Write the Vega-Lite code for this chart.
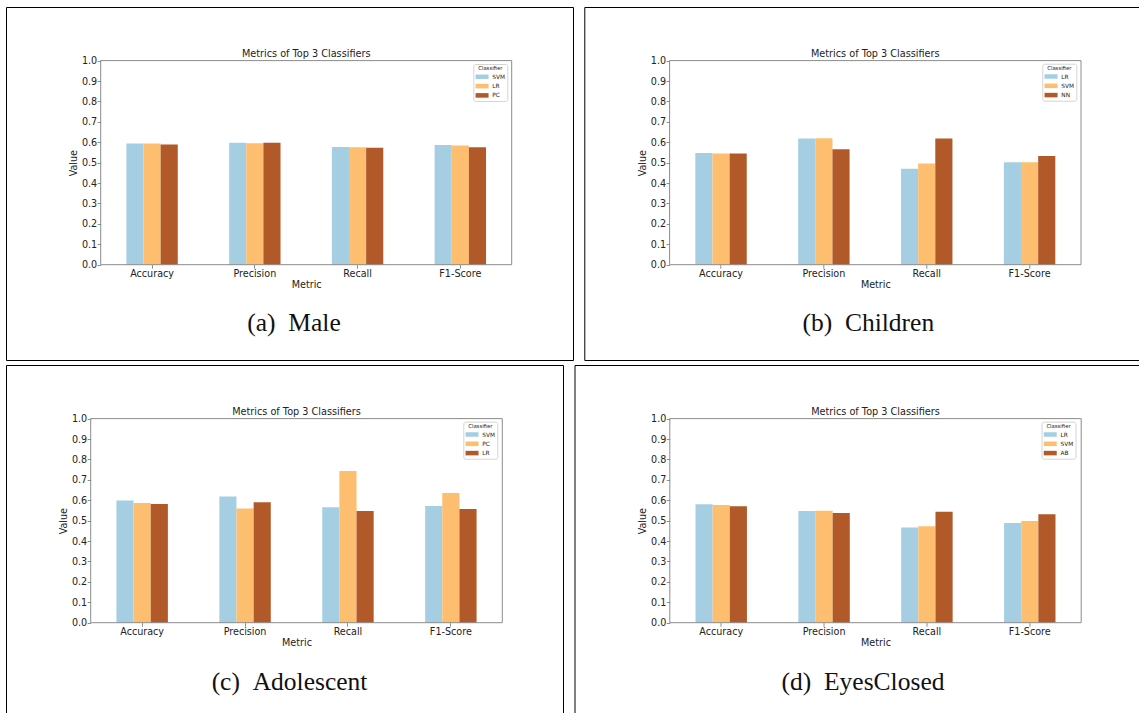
{
  "$schema": "https://vega.github.io/schema/vega-lite/v6.json",
  "background": "white",
  "padding": {"left": 5, "top": 6, "right": 0, "bottom": 0},
  "spacing": 3,
  "config": {
    "font": "DejaVu Sans",
    "view": {"stroke": "#000000", "strokeWidth": 1},
    "axis": {
      "grid": false,
      "domain": false,
      "tickColor": "#8c8c8c",
      "tickSize": 3.5,
      "labelFont": "DejaVu Sans",
      "labelFontSize": 9.6,
      "labelColor": "#222222",
      "titleFont": "DejaVu Sans",
      "titleFontSize": 9.6,
      "titleFontWeight": "normal",
      "titleColor": "#222222"
    },
    "legend": {
      "titleFont": "DejaVu Sans",
      "labelFont": "DejaVu Sans",
      "titleFontWeight": "normal",
      "labelColor": "#222222",
      "titleColor": "#222222"
    },
    "title": {"font": "Liberation Serif", "fontWeight": "normal", "color": "#111111"}
  },
  "resolve": {"scale": {"color": "independent", "xOffset": "independent"}, "legend": {"color": "independent"}},
  "vconcat": [
    {
      "spacing": 9.3,
      "resolve": {"scale": {"color": "independent", "xOffset": "independent"}, "legend": {"color": "independent"}},
      "hconcat": [
        {
          "width": 567,
          "height": 353,
          "data": {"values": [
            {"Metric": "Accuracy", "Classifier": "SVM", "Value": 0.594},
            {"Metric": "Accuracy", "Classifier": "LR", "Value": 0.594},
            {"Metric": "Accuracy", "Classifier": "PC", "Value": 0.589},
            {"Metric": "Precision", "Classifier": "SVM", "Value": 0.597},
            {"Metric": "Precision", "Classifier": "LR", "Value": 0.595},
            {"Metric": "Precision", "Classifier": "PC", "Value": 0.597},
            {"Metric": "Recall", "Classifier": "SVM", "Value": 0.577},
            {"Metric": "Recall", "Classifier": "LR", "Value": 0.575},
            {"Metric": "Recall", "Classifier": "PC", "Value": 0.573},
            {"Metric": "F1-Score", "Classifier": "SVM", "Value": 0.586},
            {"Metric": "F1-Score", "Classifier": "LR", "Value": 0.584},
            {"Metric": "F1-Score", "Classifier": "PC", "Value": 0.576}
          ]},
          "title": {"text": "(a)\u2002Male", "orient": "bottom", "anchor": "middle", "frame": "group", "offset": -29, "baseline": "alphabetic", "fontSize": 25.5, "dx": 4.5},
          "layer": [
            {
              "mark": {"type": "bar"},
              "encoding": {
                "x": {"field": "Metric", "type": "nominal",
                  "scale": {"domain": ["Accuracy", "Precision", "Recall", "F1-Score"], "range": [94.7, 505.7], "paddingInner": 0.5, "paddingOuter": 0.25},
                  "axis": {"orient": "bottom", "offset": -95.3, "title": "Metric", "labelAngle": 0, "labelPadding": 0.5, "titlePadding": 1}},
                "xOffset": {"field": "Classifier", "type": "nominal", "scale": {"domain": ["SVM", "LR", "PC"], "paddingInner": 0, "paddingOuter": 0}},
                "y": {"field": "Value", "type": "quantitative",
                  "scale": {"domain": [0, 1], "range": [257.7, 53.6], "nice": false, "zero": true},
                  "axis": {"orient": "left", "offset": -94.7, "title": "Value", "values": [0, 0.1, 0.2, 0.3, 0.4, 0.5, 0.6, 0.7, 0.8, 0.9, 1], "format": ".1f", "labelPadding": 0.5, "titlePadding": 3, "labelFlush": false, "labelOverlap": false}},
                "color": {"field": "Classifier", "type": "nominal",
                  "scale": {"domain": ["SVM", "LR", "PC"], "range": ["#a6cee3", "#fdbf6f", "#b15928"]},
                  "legend": {"title": "Classifier", "orient": "none", "legendX": 467.3, "legendY": 57, "fillColor": "#ffffff", "strokeColor": "#d4d4d4", "cornerRadius": 2, "padding": 2, "titleFontSize": 5.3, "titleAnchor": "middle", "titlePadding": 2, "labelFontSize": 5.8, "labelOffset": 10, "symbolType": "M-1,-0.7H3V0.7H-1Z", "symbolSize": 42.25, "symbolStrokeWidth": 0, "rowPadding": 2.3}}
              }
            },
            {
              "data": {"values": [{}]},
              "mark": {"type": "rect", "fill": null, "filled": false, "stroke": "#8c8c8c", "strokeWidth": 1},
              "encoding": {
                "x": {"datum": "Accuracy", "type": "nominal", "bandPosition": -0.5, "axis": null},
                "x2": {"datum": "F1-Score", "bandPosition": 1.5},
                "y": {"datum": 0, "type": "quantitative", "axis": null},
                "y2": {"datum": 1}
              }
            },
            {
              "data": {"values": [{}]},
              "mark": {"type": "text", "text": "Metrics of Top 3 Classifiers", "font": "DejaVu Sans", "fontSize": 9.7, "color": "#222222", "align": "center", "baseline": "alphabetic", "dy": -3.4},
              "encoding": {
                "x": {"datum": "Precision", "type": "nominal", "bandPosition": 1.5, "axis": null},
                "y": {"datum": 1, "type": "quantitative", "axis": null}
              }
            }
          ],
          "resolve": {"axis": {"x": "independent", "y": "independent"}}
        },
        {
          "width": 567,
          "height": 353,
          "data": {"values": [
            {"Metric": "Accuracy", "Classifier": "LR", "Value": 0.547},
            {"Metric": "Accuracy", "Classifier": "SVM", "Value": 0.545},
            {"Metric": "Accuracy", "Classifier": "NN", "Value": 0.545},
            {"Metric": "Precision", "Classifier": "LR", "Value": 0.618},
            {"Metric": "Precision", "Classifier": "SVM", "Value": 0.620},
            {"Metric": "Precision", "Classifier": "NN", "Value": 0.566},
            {"Metric": "Recall", "Classifier": "LR", "Value": 0.470},
            {"Metric": "Recall", "Classifier": "SVM", "Value": 0.496},
            {"Metric": "Recall", "Classifier": "NN", "Value": 0.618},
            {"Metric": "F1-Score", "Classifier": "LR", "Value": 0.502},
            {"Metric": "F1-Score", "Classifier": "SVM", "Value": 0.502},
            {"Metric": "F1-Score", "Classifier": "NN", "Value": 0.532}
          ]},
          "title": {"text": "(b)\u2002Children", "orient": "bottom", "anchor": "middle", "frame": "group", "offset": -29, "baseline": "alphabetic", "fontSize": 25.5, "dx": 0.5},
          "layer": [
            {
              "mark": {"type": "bar"},
              "encoding": {
                "x": {"field": "Metric", "type": "nominal",
                  "scale": {"domain": ["Accuracy", "Precision", "Recall", "F1-Score"], "range": [85.3, 496.7], "paddingInner": 0.5, "paddingOuter": 0.25},
                  "axis": {"orient": "bottom", "offset": -95.3, "title": "Metric", "labelAngle": 0, "labelPadding": 0.5, "titlePadding": 1}},
                "xOffset": {"field": "Classifier", "type": "nominal", "scale": {"domain": ["LR", "SVM", "NN"], "paddingInner": 0, "paddingOuter": 0}},
                "y": {"field": "Value", "type": "quantitative",
                  "scale": {"domain": [0, 1], "range": [257.7, 53.6], "nice": false, "zero": true},
                  "axis": {"orient": "left", "offset": -85.3, "title": "Value", "values": [0, 0.1, 0.2, 0.3, 0.4, 0.5, 0.6, 0.7, 0.8, 0.9, 1], "format": ".1f", "labelPadding": 0.5, "titlePadding": 3, "labelFlush": false, "labelOverlap": false}},
                "color": {"field": "Classifier", "type": "nominal",
                  "scale": {"domain": ["LR", "SVM", "NN"], "range": ["#a6cee3", "#fdbf6f", "#b15928"]},
                  "legend": {"title": "Classifier", "orient": "none", "legendX": 458, "legendY": 56.7, "fillColor": "#ffffff", "strokeColor": "#d4d4d4", "cornerRadius": 2, "padding": 2, "titleFontSize": 5.3, "titleAnchor": "middle", "titlePadding": 2, "labelFontSize": 5.8, "labelOffset": 10, "symbolType": "M-1,-0.7H3V0.7H-1Z", "symbolSize": 42.25, "symbolStrokeWidth": 0, "rowPadding": 2.3}}
              }
            },
            {
              "data": {"values": [{}]},
              "mark": {"type": "rect", "fill": null, "filled": false, "stroke": "#8c8c8c", "strokeWidth": 1},
              "encoding": {
                "x": {"datum": "Accuracy", "type": "nominal", "bandPosition": -0.5, "axis": null},
                "x2": {"datum": "F1-Score", "bandPosition": 1.5},
                "y": {"datum": 0, "type": "quantitative", "axis": null},
                "y2": {"datum": 1}
              }
            },
            {
              "data": {"values": [{}]},
              "mark": {"type": "text", "text": "Metrics of Top 3 Classifiers", "font": "DejaVu Sans", "fontSize": 9.7, "color": "#222222", "align": "center", "baseline": "alphabetic", "dy": -3.4},
              "encoding": {
                "x": {"datum": "Precision", "type": "nominal", "bandPosition": 1.5, "axis": null},
                "y": {"datum": 1, "type": "quantitative", "axis": null}
              }
            }
          ],
          "resolve": {"axis": {"x": "independent", "y": "independent"}}
        }
      ]
    },
    {
      "spacing": 9.5,
      "resolve": {"scale": {"color": "independent", "xOffset": "independent"}, "legend": {"color": "independent"}},
      "hconcat": [
        {
          "width": 557,
          "height": 353,
          "data": {"values": [
            {"Metric": "Accuracy", "Classifier": "SVM", "Value": 0.599},
            {"Metric": "Accuracy", "Classifier": "PC", "Value": 0.586},
            {"Metric": "Accuracy", "Classifier": "LR", "Value": 0.582},
            {"Metric": "Precision", "Classifier": "SVM", "Value": 0.618},
            {"Metric": "Precision", "Classifier": "PC", "Value": 0.560},
            {"Metric": "Precision", "Classifier": "LR", "Value": 0.590},
            {"Metric": "Recall", "Classifier": "SVM", "Value": 0.566},
            {"Metric": "Recall", "Classifier": "PC", "Value": 0.743},
            {"Metric": "Recall", "Classifier": "LR", "Value": 0.547},
            {"Metric": "F1-Score", "Classifier": "SVM", "Value": 0.572},
            {"Metric": "F1-Score", "Classifier": "PC", "Value": 0.636},
            {"Metric": "F1-Score", "Classifier": "LR", "Value": 0.557}
          ]},
          "title": {"text": "(c)\u2002Adolescent", "orient": "bottom", "anchor": "middle", "frame": "group", "offset": -28, "baseline": "alphabetic", "fontSize": 25.5, "dx": 5},
          "layer": [
            {
              "mark": {"type": "bar"},
              "encoding": {
                "x": {"field": "Metric", "type": "nominal",
                  "scale": {"domain": ["Accuracy", "Precision", "Recall", "F1-Score"], "range": [84.7, 496.3], "paddingInner": 0.5, "paddingOuter": 0.25},
                  "axis": {"orient": "bottom", "offset": -95.3, "title": "Metric", "labelAngle": 0, "labelPadding": 0.5, "titlePadding": 1}},
                "xOffset": {"field": "Classifier", "type": "nominal", "scale": {"domain": ["SVM", "PC", "LR"], "paddingInner": 0, "paddingOuter": 0}},
                "y": {"field": "Value", "type": "quantitative",
                  "scale": {"domain": [0, 1], "range": [257.7, 53.6], "nice": false, "zero": true},
                  "axis": {"orient": "left", "offset": -84.7, "title": "Value", "values": [0, 0.1, 0.2, 0.3, 0.4, 0.5, 0.6, 0.7, 0.8, 0.9, 1], "format": ".1f", "labelPadding": 0.5, "titlePadding": 3, "labelFlush": false, "labelOverlap": false}},
                "color": {"field": "Classifier", "type": "nominal",
                  "scale": {"domain": ["SVM", "PC", "LR"], "range": ["#a6cee3", "#fdbf6f", "#b15928"]},
                  "legend": {"title": "Classifier", "orient": "none", "legendX": 457.3, "legendY": 56.7, "fillColor": "#ffffff", "strokeColor": "#d4d4d4", "cornerRadius": 2, "padding": 2, "titleFontSize": 5.3, "titleAnchor": "middle", "titlePadding": 2, "labelFontSize": 5.8, "labelOffset": 10, "symbolType": "M-1,-0.7H3V0.7H-1Z", "symbolSize": 42.25, "symbolStrokeWidth": 0, "rowPadding": 2.3}}
              }
            },
            {
              "data": {"values": [{}]},
              "mark": {"type": "rect", "fill": null, "filled": false, "stroke": "#8c8c8c", "strokeWidth": 1},
              "encoding": {
                "x": {"datum": "Accuracy", "type": "nominal", "bandPosition": -0.5, "axis": null},
                "x2": {"datum": "F1-Score", "bandPosition": 1.5},
                "y": {"datum": 0, "type": "quantitative", "axis": null},
                "y2": {"datum": 1}
              }
            },
            {
              "data": {"values": [{}]},
              "mark": {"type": "text", "text": "Metrics of Top 3 Classifiers", "font": "DejaVu Sans", "fontSize": 9.7, "color": "#222222", "align": "center", "baseline": "alphabetic", "dy": -3.4},
              "encoding": {
                "x": {"datum": "Precision", "type": "nominal", "bandPosition": 1.5, "axis": null},
                "y": {"datum": 1, "type": "quantitative", "axis": null}
              }
            }
          ],
          "resolve": {"axis": {"x": "independent", "y": "independent"}}
        },
        {
          "width": 567,
          "height": 353,
          "data": {"values": [
            {"Metric": "Accuracy", "Classifier": "LR", "Value": 0.580},
            {"Metric": "Accuracy", "Classifier": "SVM", "Value": 0.577},
            {"Metric": "Accuracy", "Classifier": "AB", "Value": 0.570},
            {"Metric": "Precision", "Classifier": "LR", "Value": 0.547},
            {"Metric": "Precision", "Classifier": "SVM", "Value": 0.549},
            {"Metric": "Precision", "Classifier": "AB", "Value": 0.538},
            {"Metric": "Recall", "Classifier": "LR", "Value": 0.467},
            {"Metric": "Recall", "Classifier": "SVM", "Value": 0.473},
            {"Metric": "Recall", "Classifier": "AB", "Value": 0.543},
            {"Metric": "F1-Score", "Classifier": "LR", "Value": 0.489},
            {"Metric": "F1-Score", "Classifier": "SVM", "Value": 0.498},
            {"Metric": "F1-Score", "Classifier": "AB", "Value": 0.531}
          ]},
          "title": {"text": "(d)\u2002EyesClosed", "orient": "bottom", "anchor": "middle", "frame": "group", "offset": -28, "baseline": "alphabetic", "fontSize": 25.5, "dx": 5},
          "layer": [
            {
              "mark": {"type": "bar"},
              "encoding": {
                "x": {"field": "Metric", "type": "nominal",
                  "scale": {"domain": ["Accuracy", "Precision", "Recall", "F1-Score"], "range": [95.3, 506.7], "paddingInner": 0.5, "paddingOuter": 0.25},
                  "axis": {"orient": "bottom", "offset": -95.3, "title": "Metric", "labelAngle": 0, "labelPadding": 0.5, "titlePadding": 1}},
                "xOffset": {"field": "Classifier", "type": "nominal", "scale": {"domain": ["LR", "SVM", "AB"], "paddingInner": 0, "paddingOuter": 0}},
                "y": {"field": "Value", "type": "quantitative",
                  "scale": {"domain": [0, 1], "range": [257.7, 53.6], "nice": false, "zero": true},
                  "axis": {"orient": "left", "offset": -95.3, "title": "Value", "values": [0, 0.1, 0.2, 0.3, 0.4, 0.5, 0.6, 0.7, 0.8, 0.9, 1], "format": ".1f", "labelPadding": 0.5, "titlePadding": 3, "labelFlush": false, "labelOverlap": false}},
                "color": {"field": "Classifier", "type": "nominal",
                  "scale": {"domain": ["LR", "SVM", "AB"], "range": ["#a6cee3", "#fdbf6f", "#b15928"]},
                  "legend": {"title": "Classifier", "orient": "none", "legendX": 467, "legendY": 56.7, "fillColor": "#ffffff", "strokeColor": "#d4d4d4", "cornerRadius": 2, "padding": 2, "titleFontSize": 5.3, "titleAnchor": "middle", "titlePadding": 2, "labelFontSize": 5.8, "labelOffset": 10, "symbolType": "M-1,-0.7H3V0.7H-1Z", "symbolSize": 42.25, "symbolStrokeWidth": 0, "rowPadding": 2.3}}
              }
            },
            {
              "data": {"values": [{}]},
              "mark": {"type": "rect", "fill": null, "filled": false, "stroke": "#8c8c8c", "strokeWidth": 1},
              "encoding": {
                "x": {"datum": "Accuracy", "type": "nominal", "bandPosition": -0.5, "axis": null},
                "x2": {"datum": "F1-Score", "bandPosition": 1.5},
                "y": {"datum": 0, "type": "quantitative", "axis": null},
                "y2": {"datum": 1}
              }
            },
            {
              "data": {"values": [{}]},
              "mark": {"type": "text", "text": "Metrics of Top 3 Classifiers", "font": "DejaVu Sans", "fontSize": 9.7, "color": "#222222", "align": "center", "baseline": "alphabetic", "dy": -3.4},
              "encoding": {
                "x": {"datum": "Precision", "type": "nominal", "bandPosition": 1.5, "axis": null},
                "y": {"datum": 1, "type": "quantitative", "axis": null}
              }
            }
          ],
          "resolve": {"axis": {"x": "independent", "y": "independent"}}
        }
      ]
    }
  ]
}
